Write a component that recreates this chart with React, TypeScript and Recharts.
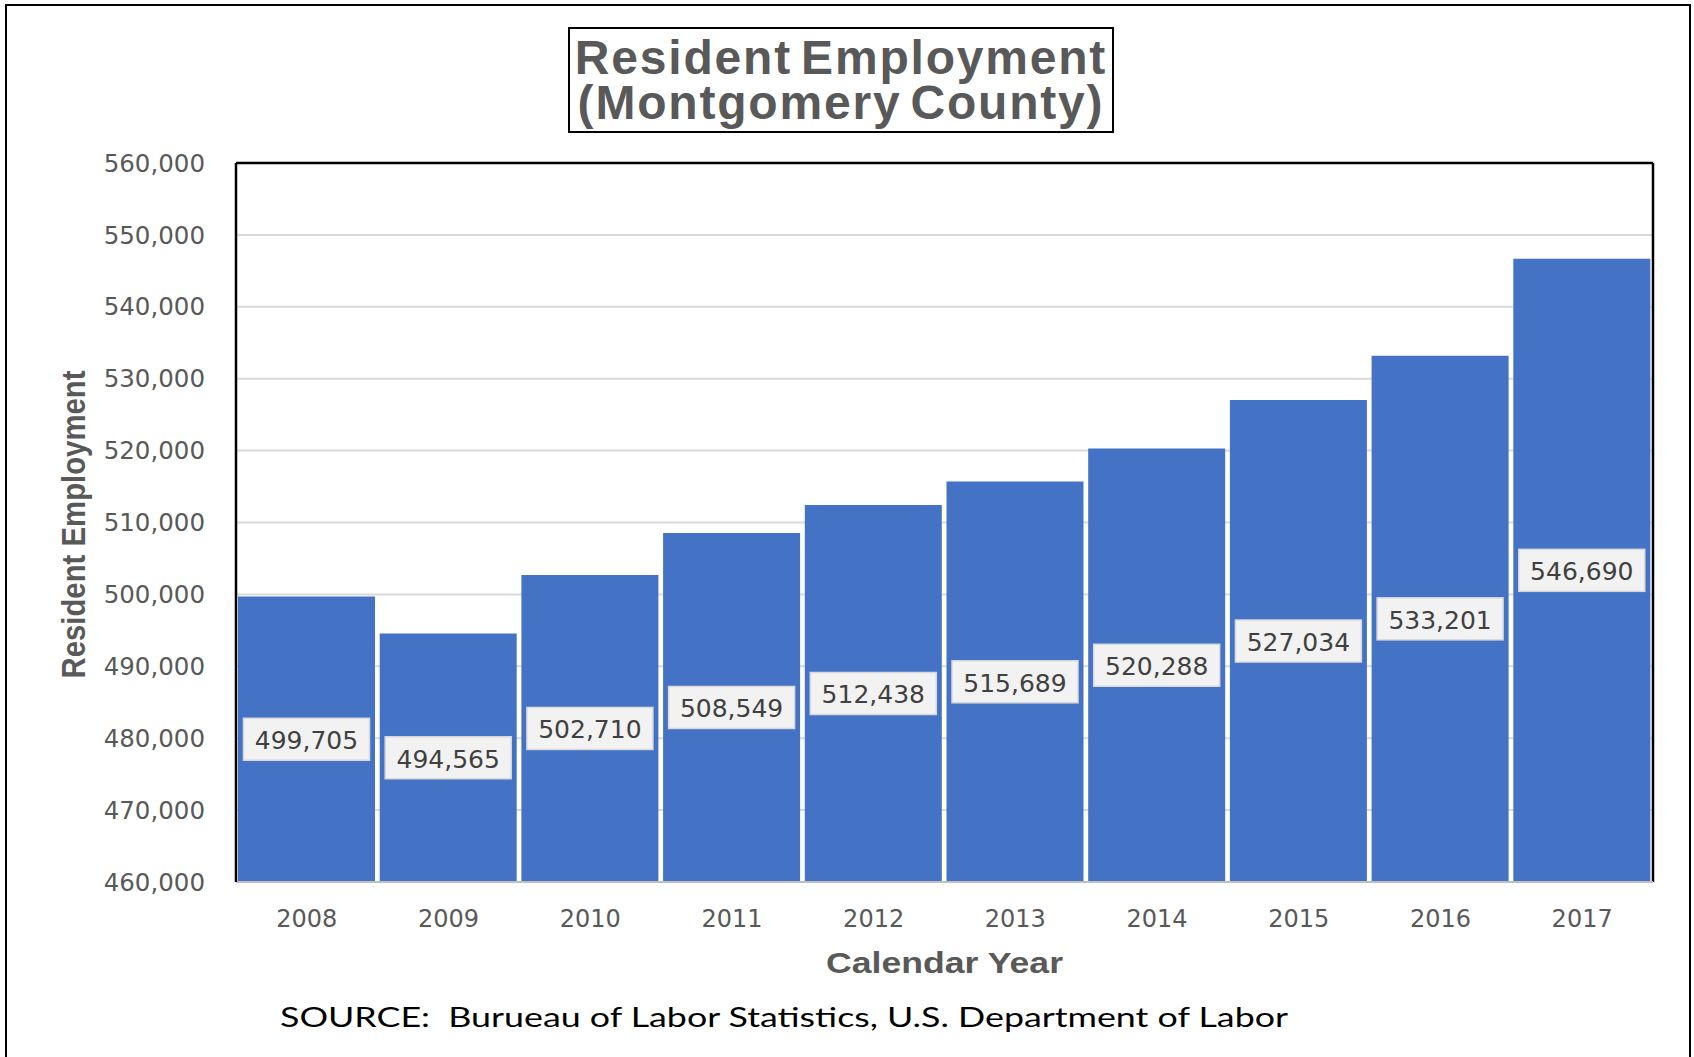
import { BarChart, Bar, XAxis, YAxis, CartesianGrid, LabelList, ReferenceLine } from "recharts";

const years = ["2008", "2009", "2010", "2011", "2012", "2013", "2014", "2015", "2016", "2017"];
const employment = [499705, 494565, 502710, 508549, 512438, 515689, 520288, 527034, 533201, 546690];
const yTicks = [460000, 470000, 480000, 490000, 500000, 510000, 520000, 530000, 540000, 550000, 560000];

const data = years.map((year, i) => ({ year, employment: employment[i] }));

const fmt = (v: number) => Number(v).toLocaleString("en-US");

const GRAY = "#595959";
const TICK_FONT = "'DejaVu Sans', sans-serif";
const TITLE_FONT = "'Liberation Sans', Arial, sans-serif";

// boxed value label in the middle of each bar
const ValueLabel = (props: any) => {
  const { x, y, width, height, value } = props;
  const cx = x + width / 2;
  const cy = y + height / 2;
  return (
    <g>
      <rect x={cx - 63} y={cy - 21} width={126} height={42} fill="#f2f2f2" stroke="#d9d9d9" strokeWidth={1.5} />
      <text x={cx} y={cy + 10} textAnchor="middle" fontFamily={TICK_FONT} fontSize={25} fill="#404040">
        {fmt(value)}
      </text>
    </g>
  );
};

const YTitle = (props: any) => {
  const vb = props.viewBox || {};
  const cy = vb.y + vb.height / 2 + 2;
  const cx = 85;
  return (
    <text
      x={cx}
      y={cy}
      transform={`rotate(-90, ${cx}, ${cy})`}
      textAnchor="middle"
      fontFamily={TITLE_FONT}
      fontWeight="bold"
      fontSize={34}
      fill={GRAY}
      textLength={308}
      lengthAdjust="spacingAndGlyphs"
    >
      Resident Employment
    </text>
  );
};

const XTitle = (props: any) => {
  const vb = props.viewBox || {};
  const cx = vb.x + vb.width / 2;
  return (
    <text
      x={cx}
      y={vb.y + 91}
      textAnchor="middle"
      fontFamily={TITLE_FONT}
      fontWeight="bold"
      fontSize={30}
      fill={GRAY}
      textLength={237}
      lengthAdjust="spacingAndGlyphs"
    >
      Calendar Year
    </text>
  );
};

const titleLine = {
  height: 45,
  lineHeight: "45px",
  overflow: "visible" as const,
  whiteSpace: "nowrap" as const,
};

export default function App() {
  return (
    <div style={{ position: "absolute", left: 0, top: 0, width: 1694, height: 1057, overflow: "hidden", background: "#fff" }}>
      {/* outer frame */}
      <div
        style={{
          position: "absolute",
          left: 5,
          top: 4,
          width: 1686,
          height: 1100,
          border: "2px solid #000",
          boxSizing: "border-box",
        }}
      />

      <div style={{ position: "absolute", left: 0, top: 0 }}>
        <BarChart
          width={1694}
          height={1057}
          data={data}
          margin={{ top: 163, right: 41, bottom: 55, left: 0 }}
        >
          <CartesianGrid vertical={false} stroke="#d9d9d9" strokeWidth={2} />
          <XAxis
            dataKey="year"
            height={120}
            axisLine={{ stroke: "#bfbfbf", strokeWidth: 2 }}
            tickLine={false}
            tickSize={0}
            tickMargin={28}
            tick={{ fill: GRAY, fontSize: 24, fontFamily: TICK_FONT }}
            label={XTitle}
          />
          <YAxis
            width={236}
            domain={[460000, 560000]}
            ticks={yTicks}
            tickFormatter={fmt}
            interval={0}
            allowDataOverflow
            axisLine={{ stroke: "#000", strokeWidth: 2.5 }}
            tickLine={false}
            tickSize={0}
            tickMargin={31}
            tick={{ fill: GRAY, fontSize: 24.5, fontFamily: TICK_FONT }}
            label={YTitle}
          />
          <Bar dataKey="employment" fill="#4472c4" barSize={137} isAnimationActive={false}>
            <LabelList dataKey="employment" position="center" content={ValueLabel} />
          </Bar>
          {/* plot frame: top and right edges */}
          <ReferenceLine y={560000} stroke="#000" strokeWidth={2.5} />
          <ReferenceLine x="2017" position="end" stroke="#000" strokeWidth={2.5} />
        </BarChart>
      </div>

      {/* chart title */}
      <div
        style={{
          position: "absolute",
          left: 568,
          top: 27,
          width: 546,
          height: 106,
          border: "2px solid #000",
          boxSizing: "border-box",
          paddingTop: 6,
          textAlign: "center",
          fontFamily: TITLE_FONT,
          fontWeight: "bold",
          fontSize: 48,
          color: GRAY,
          letterSpacing: 1.8,
          wordSpacing: -6,
          background: "#fff",
        }}
      >
        <div style={titleLine}>Resident Employment</div>
        <div style={titleLine}>(Montgomery County)</div>
      </div>

      {/* source note */}
      <svg style={{ position: "absolute", left: 0, top: 0 }} width={1694} height={1057}>
        <text
          x={280}
          y={1027}
          fontFamily="Lato, 'Open Sans', sans-serif"
          fontSize={27}
          fill="#000"
          textLength={1008}
          lengthAdjust="spacingAndGlyphs"
          xmlSpace="preserve"
        >
          SOURCE:  Burueau of Labor Statistics, U.S. Department of Labor
        </text>
      </svg>
    </div>
  );
}
